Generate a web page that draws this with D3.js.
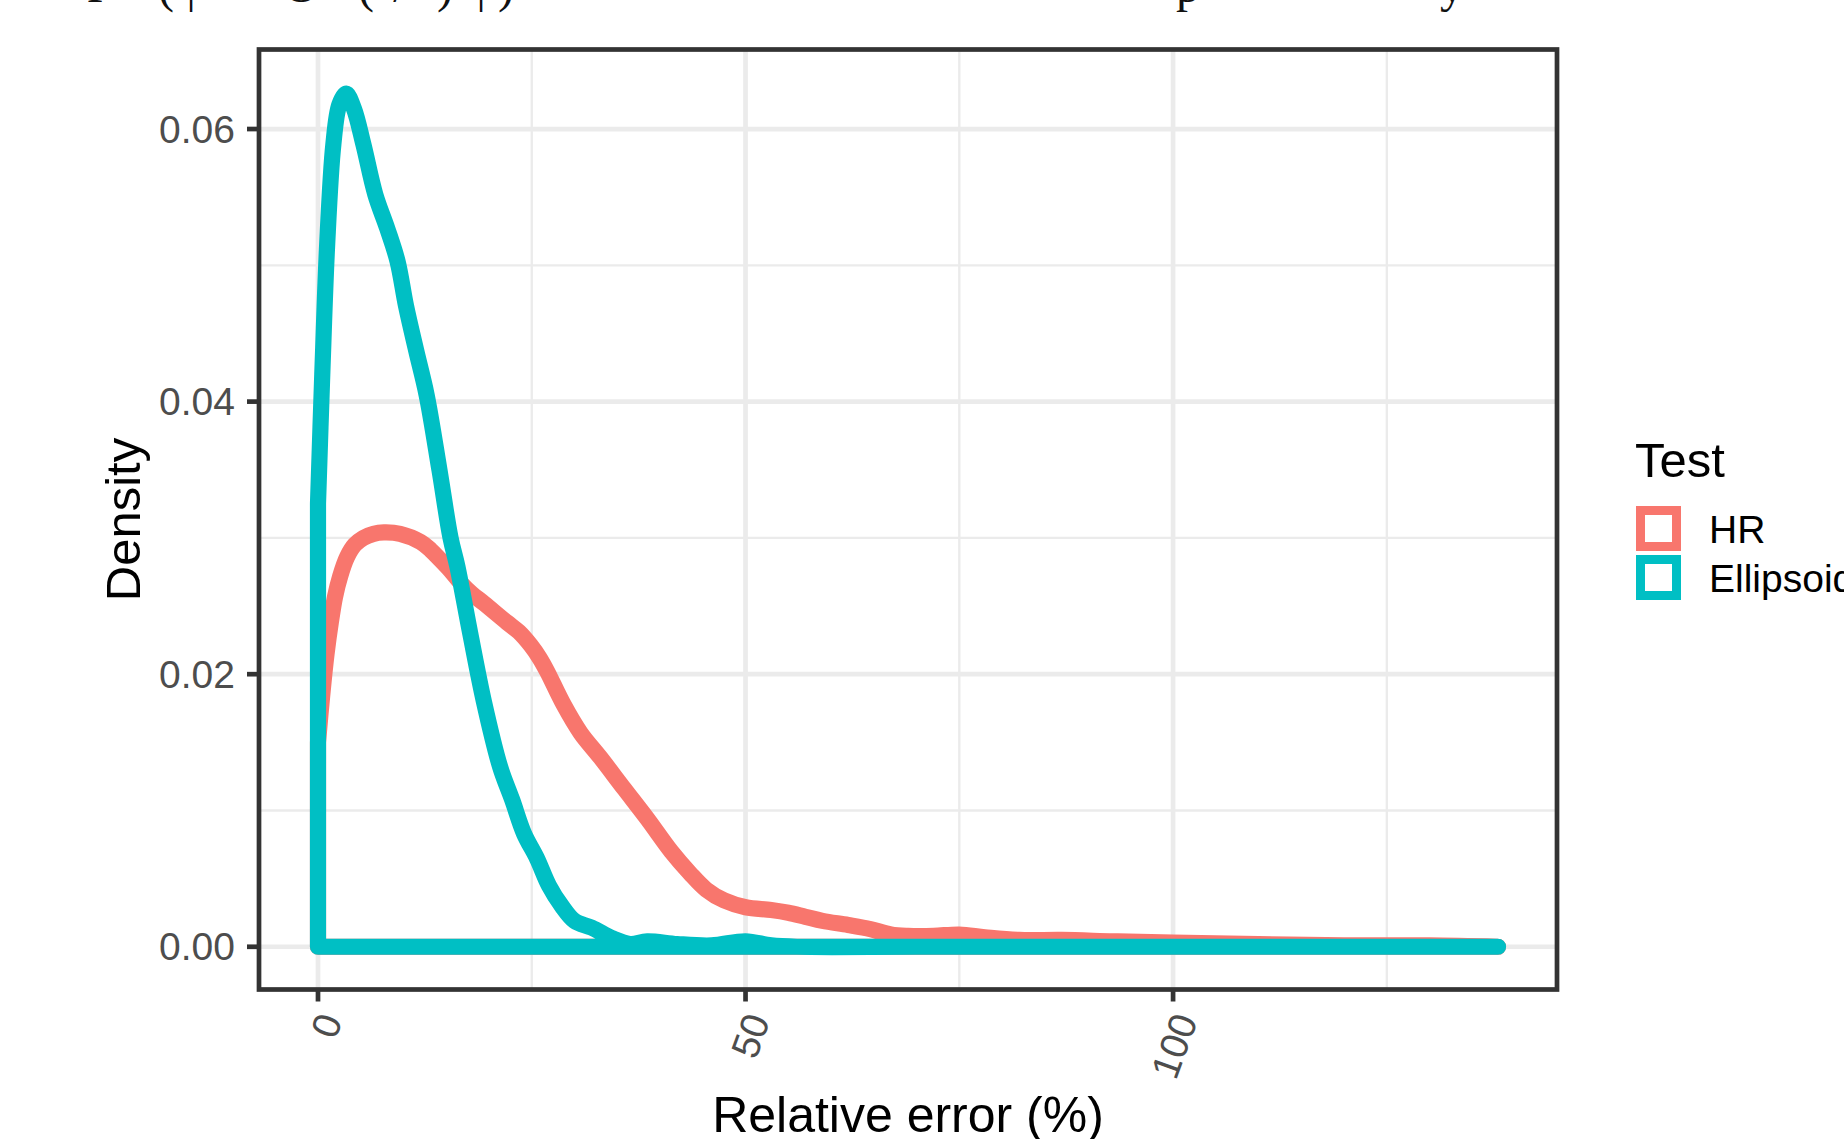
<!DOCTYPE html>
<html>
<head>
<meta charset="utf-8">
<script src="https://cdn.jsdelivr.net/npm/d3@7"></script>
<style>
  html, body { margin: 0; padding: 0; background: #fff; overflow: hidden; }
  svg { display: block; font-family: "Liberation Sans", Arial, Helvetica, sans-serif; }
</style>
</head>
<body>
<svg id="chart" width="1844" height="1139"></svg>
<script>
// ---------------- data ----------------
const seriesNames = ["HR", "Ellipsoid"];
const seriesColors = ["#F8766D", "#00BFC4"];

const hrX = [0, 0.5, 1.0, 1.5, 2.0, 2.6, 3.4, 4.3, 5.3, 6.5, 7.7, 9.6, 12, 13.2, 14.3, 15.5, 16.7, 18, 19.4, 22.1, 23.5, 24.9, 25.9, 26.8, 28.7, 30.7, 33, 35.8, 38.5, 41.3, 43.5, 45.4, 47.5, 50, 53, 55, 57, 59, 62, 64.6, 67, 69, 72, 75, 78, 82, 87, 93, 100, 110, 120, 130, 138];
const hrY = [0.0150, 0.0185, 0.0215, 0.0238, 0.0257, 0.0272, 0.0286, 0.0295, 0.0300, 0.0303, 0.0304, 0.0303, 0.0297, 0.0291, 0.0284, 0.0276, 0.0267, 0.0259, 0.0252, 0.0238, 0.0231, 0.0221, 0.0212, 0.0202, 0.0178, 0.0157, 0.0139, 0.0116, 0.0094, 0.0070, 0.0054, 0.0042, 0.0034, 0.0029, 0.0027, 0.0025, 0.0022, 0.0019, 0.0016, 0.0013, 0.0009, 0.0008, 0.0008, 0.0009, 0.0007, 0.0005, 0.0005, 0.0004, 0.0003, 0.0002, 0.0001, 0.0001, 0.0000];

const elX = [0, 0.5, 1.07, 1.8, 2.5, 3.3, 4.2, 5.3, 6.7, 8.1, 9.3, 10.3, 11.5, 12.7, 14.2, 15.5, 16.3, 17.8, 19.4, 21.3, 22.7, 24.1, 25.6, 27, 28.5, 30, 32, 34.5, 36.5, 38.5, 42, 46, 50, 53, 56, 70, 90, 110, 138];
const elY = [0.0325, 0.0420, 0.0515, 0.0589, 0.0618, 0.0626, 0.0615, 0.0589, 0.0552, 0.0527, 0.0503, 0.0470, 0.0437, 0.0405, 0.0350, 0.0300, 0.0279, 0.0230, 0.0180, 0.0132, 0.0108, 0.0083, 0.0065, 0.0045, 0.0030, 0.0019, 0.0014, 0.0006, 0.0002, 0.0004, 0.0002, 0.0001, 0.0004, 0.0001, 0.0000, 0.0000, 0.0000, 0.0000, 0.0000];

const xMajorTicks = [0, 50, 100];
const xMinorTicks = [25, 75, 125];
const yMajorTicks = [0, 0.02, 0.04, 0.06];
const yMinorTicks = [0.01, 0.03, 0.05];
const yTickLabels = ["0.00", "0.02", "0.04", "0.06"];
const xTickLabels = ["0", "50", "100"];

const xTitle = "Relative error (%)";
const yTitle = "Density";
const legendTitle = "Test";

// clipped fragments of a caption above the figure
const topFragments = [
  {t: "P", x: 100}, {t: "(", x: 166}, {t: "|", x: 191}, {t: "O", x: 301},
  {t: "(", x: 366}, {t: "/", x: 400}, {t: ")", x: 445}, {t: "|", x: 481},
  {t: ")", x: 506}, {t: "p", x: 1188}, {t: "y", x: 1452}
];

// ---------------- layout ----------------
const panel = {left: 259, right: 1557, top: 49.5, bottom: 989.5};
const svg = d3.select("#chart");

const x = d3.scaleLinear().domain([-6.9, 144.9]).range([panel.left, panel.right]);
const y = d3.scaleLinear().domain([-0.003135, 0.065835]).range([panel.bottom, panel.top]);

const lw = 4.7;

// top fragments
svg.append("g").selectAll("text").data(topFragments).join("text")
  .attr("x", d => d.x).attr("y", 2)
  .attr("text-anchor", "middle")
  .style("font-family", "'Liberation Serif', 'DejaVu Serif', serif")
  .style("font-size", "48px")
  .attr("fill", "#111")
  .text(d => d.t);

// panel background
svg.append("rect")
  .attr("x", panel.left).attr("y", panel.top)
  .attr("width", panel.right - panel.left).attr("height", panel.bottom - panel.top)
  .attr("fill", "#fff");

const grid = svg.append("g");
grid.selectAll(".xminor").data(xMinorTicks).join("line")
  .attr("x1", d => x(d)).attr("x2", d => x(d))
  .attr("y1", panel.top).attr("y2", panel.bottom)
  .attr("stroke", "#EBEBEB").attr("stroke-width", lw / 2);
grid.selectAll(".yminor").data(yMinorTicks).join("line")
  .attr("y1", d => y(d)).attr("y2", d => y(d))
  .attr("x1", panel.left).attr("x2", panel.right)
  .attr("stroke", "#EBEBEB").attr("stroke-width", lw / 2);
grid.selectAll(".xmajor").data(xMajorTicks).join("line")
  .attr("x1", d => x(d)).attr("x2", d => x(d))
  .attr("y1", panel.top).attr("y2", panel.bottom)
  .attr("stroke", "#EBEBEB").attr("stroke-width", lw);
grid.selectAll(".ymajor").data(yMajorTicks).join("line")
  .attr("y1", d => y(d)).attr("y2", d => y(d))
  .attr("x1", panel.left).attr("x2", panel.right)
  .attr("stroke", "#EBEBEB").attr("stroke-width", lw);

// density polygons
svg.append("clipPath").attr("id", "pclip").append("rect")
  .attr("x", panel.left).attr("y", panel.top)
  .attr("width", panel.right - panel.left).attr("height", panel.bottom - panel.top);

const line = d3.line().x(d => x(d[0])).y(d => y(d[1])).curve(d3.curveCatmullRom.alpha(0.5));
const series = [
  {name: seriesNames[0], color: seriesColors[0], pts: hrX.map((v, i) => [v, hrY[i]])},
  {name: seriesNames[1], color: seriesColors[1], pts: elX.map((v, i) => [v, elY[i]])}
];
const dens = svg.append("g").attr("clip-path", "url(#pclip)");
series.forEach(s => {
  const curveD = line(s.pts);
  const xmax = s.pts[s.pts.length - 1][0];
  const d = `M${x(xmax)},${y(0)}L${x(0)},${y(0)}L` + curveD.slice(1) + "Z";
  dens.append("path")
    .attr("d", d)
    .attr("fill", "none")
    .attr("stroke", s.color)
    .attr("stroke-width", 16.2)
    .attr("stroke-linejoin", "round")
    .attr("stroke-linecap", "round");
});

// panel border
svg.append("rect")
  .attr("x", panel.left).attr("y", panel.top)
  .attr("width", panel.right - panel.left).attr("height", panel.bottom - panel.top)
  .attr("fill", "none").attr("stroke", "#333333").attr("stroke-width", lw);

// y axis ticks & labels
const yAxis = svg.append("g");
yAxis.selectAll("line").data(yMajorTicks).join("line")
  .attr("x1", panel.left - 12).attr("x2", panel.left)
  .attr("y1", d => y(d)).attr("y2", d => y(d))
  .attr("stroke", "#333333").attr("stroke-width", lw);
yAxis.selectAll("text").data(yMajorTicks).join("text")
  .attr("x", panel.left - 24).attr("y", d => y(d))
  .attr("text-anchor", "end").attr("dominant-baseline", "central")
  .attr("fill", "#4D4D4D").style("font-size", "39px")
  .text((d, i) => yTickLabels[i]);

// x axis ticks & labels
const xAxis = svg.append("g");
xAxis.selectAll("line").data(xMajorTicks).join("line")
  .attr("x1", d => x(d)).attr("x2", d => x(d))
  .attr("y1", panel.bottom).attr("y2", panel.bottom + 12)
  .attr("stroke", "#333333").attr("stroke-width", lw);
xAxis.selectAll("text").data(xMajorTicks).join("text")
  .attr("transform", d => `translate(${x(d) + 25},${1020}) rotate(-70)`)
  .attr("text-anchor", "end")
  .attr("fill", "#4D4D4D").style("font-size", "39px")
  .text((d, i) => xTickLabels[i]);

// axis titles
svg.append("text")
  .attr("x", (panel.left + panel.right) / 2).attr("y", 1132)
  .attr("text-anchor", "middle").attr("fill", "#000")
  .style("font-size", "50px").text(xTitle);
svg.append("text")
  .attr("transform", `translate(${140},${(panel.top + panel.bottom) / 2}) rotate(-90)`)
  .attr("text-anchor", "middle").attr("fill", "#000")
  .style("font-size", "49px").text(yTitle);

// legend
const legend = svg.append("g");
legend.append("text").attr("x", 1635).attr("y", 477)
  .attr("fill", "#000").style("font-size", "49px").text(legendTitle);
const keyY = [506, 555];
series.forEach((s, i) => {
  legend.append("rect")
    .attr("x", 1640.5).attr("y", keyY[i] + 4.5)
    .attr("width", 36).attr("height", 36)
    .attr("fill", "#fff").attr("stroke", s.color).attr("stroke-width", 9);
  legend.append("text")
    .attr("x", 1709).attr("y", keyY[i] + 23)
    .attr("dominant-baseline", "central")
    .attr("fill", "#000").style("font-size", "39px").text(s.name);
});
</script>
</body>
</html>
